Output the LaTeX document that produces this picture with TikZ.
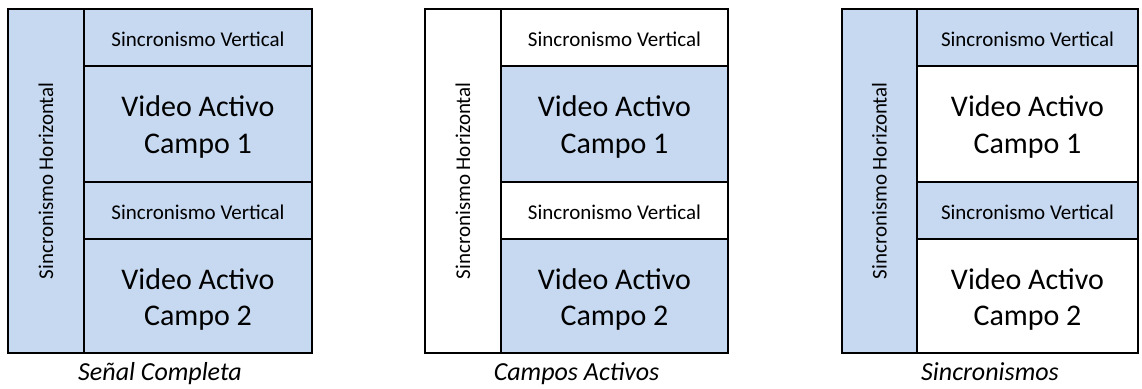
\documentclass[tikz,border=0pt]{standalone}
\usepackage{fontspec}
\setmainfont{Carlito}
\definecolor{azul}{HTML}{C6D9F1}
\tikzset{
  cellbox/.style={draw=black, line width=2pt, rectangle, inner sep=0pt, outer sep=0pt, anchor=north west},
  synctext/.style={font=\fontsize{21}{25}\selectfont, inner sep=0pt},
  videotext/.style={font=\fontsize{30}{36}\selectfont, align=center, inner sep=0pt},
  captiontext/.style={font=\fontsize{26}{30}\selectfont\itshape, anchor=base},
}
% #1 prefix, #2 left edge, #3 divider, #4 right edge,
% #5 horizontal-sync fill, #6 vertical-sync fill, #7 active-video fill, #8 caption
\newcommand\drawsignal[8]{%
  \node[cellbox, fill=#5, minimum width={(#3-#2)*1pt}, minimum height=344.5pt] (#1h) at (#2,8.5) {};
  \node[cellbox, fill=#6, minimum width={(#4-#3)*1pt}, minimum height=57.5pt] (#1va) at (#3,8.5) {};
  \node[cellbox, fill=#7, minimum width={(#4-#3)*1pt}, minimum height=116pt] (#1ca) at (#3,66) {};
  \node[cellbox, fill=#6, minimum width={(#4-#3)*1pt}, minimum height=57pt] (#1vb) at (#3,182) {};
  \node[cellbox, fill=#7, minimum width={(#4-#3)*1pt}, minimum height=114pt] (#1cb) at (#3,239) {};
  % labels
  \node[synctext, rotate=90] (#1ht) at (#1h.center) {Sincronismo Horizontal};
  \node[synctext, yshift=-2pt] (#1vat) at (#1va.center) {Sincronismo Vertical};
  \node[videotext, yshift=-3pt] (#1cat) at (#1ca.center) {Video Activo\\Campo 1};
  \node[synctext, yshift=-2pt] (#1vbt) at (#1vb.center) {Sincronismo Vertical};
  \node[videotext, yshift=-3pt] (#1cbt) at (#1cb.center) {Video Activo\\Campo 2};
  \node[captiontext] (#1cap) at ({(#2+#4)/2},380) {#8};
}
\begin{document}
\begin{tikzpicture}[x=1pt, y=-1pt]
  \useasboundingbox (0,0) rectangle (1142,388);
  \drawsignal{a}{8}{84}{312}{azul}{azul}{azul}{Señal Completa}
  \drawsignal{b}{425}{501}{728}{white}{white}{azul}{Campos Activos}
  \drawsignal{c}{842}{917}{1138}{azul}{azul}{white}{Sincronismos}
\end{tikzpicture}
\end{document}
